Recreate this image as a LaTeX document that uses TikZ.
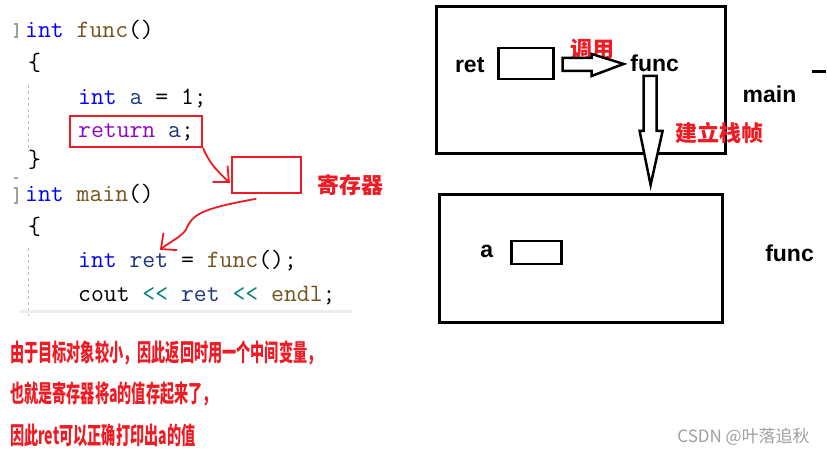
\documentclass[tikz,border=0pt]{standalone}
\usepackage{fontspec}
\setmainfont{Liberation Sans}
\newfontfamily\cjkfont{Noto Sans CJK SC}
\newfontfamily\cjknarrow{Noto Sans CJK SC}[FakeStretch=0.59]
\usepackage{xcolor}
\usetikzlibrary{positioning, arrows.meta}

\definecolor{kwblue}{RGB}{0,0,255}
\definecolor{fnbrown}{RGB}{116,83,31}
\definecolor{retpurple}{RGB}{143,8,196}
\definecolor{varblue}{RGB}{31,55,127}
\definecolor{opteal}{RGB}{0,128,128}
\definecolor{markred}{RGB}{237,28,36}
\definecolor{guttergray}{RGB}{160,160,160}

\begin{document}
\begin{tikzpicture}[
    x=1pt, y=-1pt,
    codeline/.style={
        anchor=base west,
        inner sep=0pt,
        font=\ttfamily\fontsize{25}{25}\selectfont
    },
    redbox/.style={
        draw=markred,
        line width=2.5pt,
        inner sep=0pt
    },
    redlabel/.style={
        text=markred,
        inner sep=0pt,
        font=\cjkfont\bfseries\fontsize{22}{22}\selectfont
    },
    notetext/.style={
        anchor=west,
        text=markred,
        inner sep=0pt,
        font=\cjknarrow\bfseries\fontsize{24}{24}\selectfont
    },
    framebox/.style={
        draw,
        line width=3pt,
        inner sep=0pt
    },
    slotbox/.style={
        draw,
        line width=2.5pt,
        inner sep=0pt
    },
    varname/.style={
        inner sep=0pt,
        font=\bfseries\fontsize{23}{23}\selectfont
    },
    hollowarrow/.style={
        draw,
        fill=white,
        line width=2.5pt,
        line join=miter
    },
    scribble/.style={
        draw=markred,
        line width=1.8pt,
        line cap=round,
        -{Straight Barb[length=12pt, width=22pt]}
    }
]

\path[fill=white] (0,0) rectangle (827,455);

% Code gutter
\draw[guttergray, line width=1.5pt] (14,24) -- (17,24) -- (17,37) -- (14,37);
\draw[guttergray, line width=1.5pt] (14,188) -- (17,188) -- (17,203) -- (14,203);
\draw[guttergray, line width=1.5pt] (14,178) -- (18,178);
\draw[guttergray!70, line width=1pt, dashed] (29,85) -- (29,152);
\draw[guttergray!70, line width=1pt, dashed] (29,248) -- (29,316);
\draw[gray!15, line width=3pt] (20,312) -- (352,312);

% Code lines
\node (l1) at (25,38)  [codeline] {\textcolor{kwblue}{int} \textcolor{fnbrown}{func}()};
\node (l2) at (28,71)  [codeline] {\{};
\node (l3) at (78,105) [codeline] {\textcolor{kwblue}{int} \textcolor{varblue}{a} = 1;};
\node (l4) at (78,138) [codeline] {\textcolor{retpurple}{return} \textcolor{varblue}{a};};
\node (l5) at (28,168) [codeline] {\}};
\node (l6) at (25,202) [codeline] {\textcolor{kwblue}{int} \textcolor{fnbrown}{main}()};
\node (l7) at (28,235) [codeline] {\{};
\node (l8) at (78,268) [codeline] {\textcolor{kwblue}{int} \textcolor{varblue}{ret} = \textcolor{fnbrown}{func}();};
\node (l9) at (78,302) [codeline] {cout \textcolor{opteal}{{<}{<}} \textcolor{varblue}{ret} \textcolor{opteal}{{<}{<}} \textcolor{fnbrown}{endl};};

% Register
\node (retbox) at (136,131.5) [redbox, minimum width=132pt, minimum height=31pt] {};
\node (reg) at (266.5,175) [redbox, minimum width=69pt, minimum height=36pt] {};
\node (reglabel) at (351,185) [redlabel] {寄存器};

\coordinate (regin) at (230,183);
\coordinate (regout) at (256,199);
\coordinate (rettip) at (160,250);

\draw[scribble] (retbox.south east) .. controls (209,162) and (216,170) .. (regin);
\draw[scribble] (regout) .. controls (200,209) and (192,215) .. (186,230)
    .. controls (180,238) and (170,242) .. (rettip);

% main frame
\node (mainframe) at (581.5,80.5) [framebox, minimum width=289pt, minimum height=147pt] {};
\node (retname) at (470,65) [varname] {ret};
\node (retslot) at (526.5,63.5) [slotbox, minimum width=55pt, minimum height=31pt] {};
\node (callee) at (655,63) [varname] {func};
\node (call) at (593,49) [redlabel] {调用};
\node (mainname) at (770,94) [varname] {main};
\draw[line width=3pt] (812,72) -- (826,72);

% Hollow arrows
\draw[hollowarrow] (563,58) -- (592,58) -- (592,54) -- (624,64) -- (592,76) -- (592,71) -- (563,71) -- cycle;
\draw[hollowarrow] (644,76) -- (657,76) -- (657,131) -- (663,131) -- (651,185) -- (640,131) -- (644,131) -- cycle;
\node (build) at (720,133) [redlabel] {建立栈帧};

% func frame
\node (funcframe) at (581.5,259) [framebox, minimum width=283pt, minimum height=128pt] {};
\node (aname) at (487,252) [varname] {a};
\node (aslot) at (537,252.5) [slotbox, minimum width=50pt, minimum height=23pt] {};
\node (funcname) at (790,253) [varname] {func};

% Notes
\node (n1) at (10,353) [notetext] {由于目标对象较小，因此返回时用一个中间变量，};
\node (n2) at (10,394) [notetext] {也就是寄存器将a的值存起来了，};
\node (n3) at (10,436) [notetext] {因此ret可以正确打印出a的值};

\node (mark) at (744,437) [text=guttergray, inner sep=0pt, font=\cjkfont\fontsize{17}{17}\selectfont] {CSDN @叶落追秋};

\end{tikzpicture}
\end{document}
